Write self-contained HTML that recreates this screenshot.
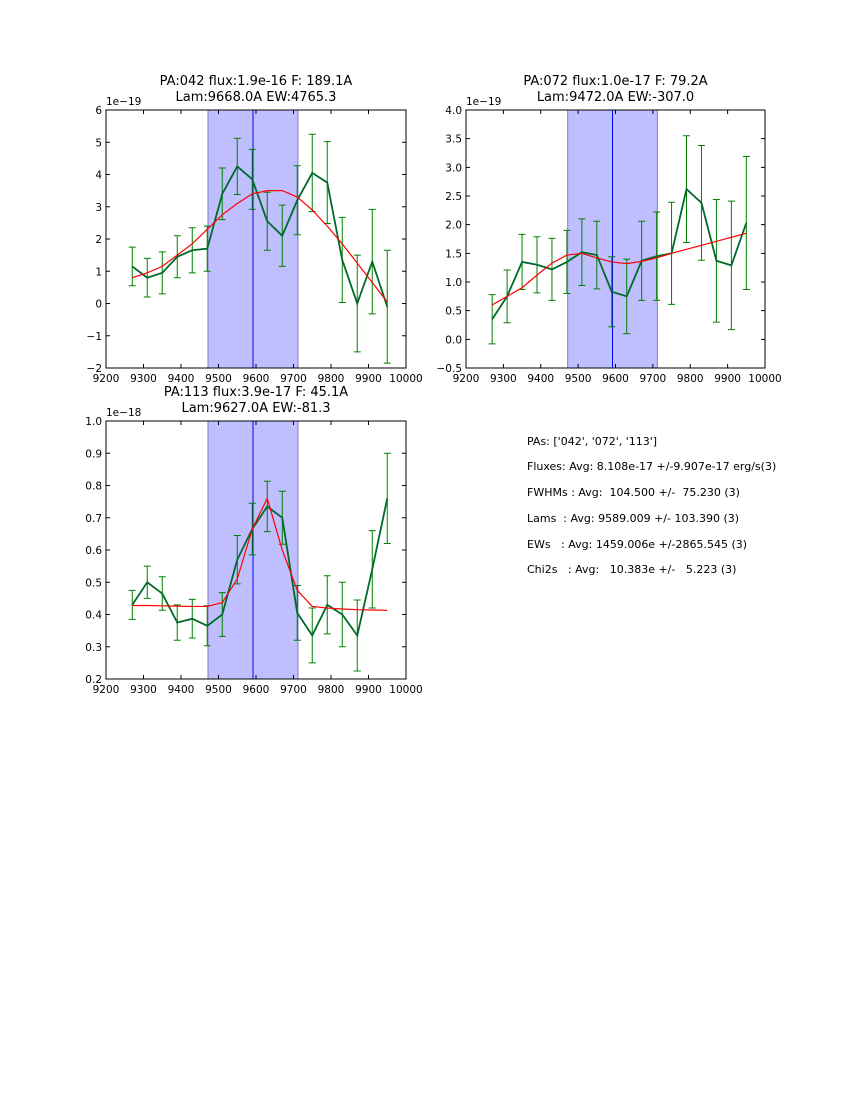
<!DOCTYPE html>
<html><head><meta charset="utf-8"><style>
body{margin:0;background:#fff;}
svg{font-family:"DejaVu Sans","Liberation Sans",sans-serif;}
.info{position:absolute;left:527px;font:11px "DejaVu Sans","Liberation Sans",sans-serif;white-space:pre;color:#000}
</style></head><body>
<div style="position:relative;width:850px;height:1100px">
<svg id="fig" width="850" height="1100" style="position:absolute;left:0;top:0"></svg>
<div class="info" style="top:435px">PAs: ['042', '072', '113']</div>
<div class="info" style="top:460px">Fluxes: Avg: 8.108e-17 +/-9.907e-17 erg/s(3)</div>
<div class="info" style="top:486px">FWHMs : Avg:  104.500 +/-  75.230 (3)</div>
<div class="info" style="top:512px">Lams  : Avg: 9589.009 +/- 103.390 (3)</div>
<div class="info" style="top:538px">EWs   : Avg: 1459.006e +/-2865.545 (3)</div>
<div class="info" style="top:563px">Chi2s   : Avg:   10.383e +/-   5.223 (3)</div>
</div>
<script>
const wavelengths=[9270,9310,9350,9390,9430,9470,9510,9550,9590,9630,9670,9710,9750,9790,9830,9870,9910,9950];
const p1Values=[1.15,0.8,0.95,1.45,1.65,1.7,3.4,4.25,3.85,2.55,2.1,3.2,4.05,3.75,1.35,0.0,1.3,-0.1];
const p1Errors=[0.6,0.6,0.65,0.65,0.7,0.7,0.8,0.87,0.93,0.9,0.95,1.07,1.2,1.27,1.32,1.5,1.62,1.75];
const p1Model=[0.8,0.95,1.15,1.5,1.85,2.3,2.75,3.1,3.4,3.5,3.5,3.3,2.9,2.4,1.85,1.25,0.65,0.05];
const p2Values=[0.35,0.75,1.35,1.3,1.22,1.35,1.52,1.47,0.83,0.75,1.37,1.45,1.5,2.62,2.38,1.37,1.29,2.03];
const p2Errors=[0.43,0.46,0.48,0.49,0.54,0.55,0.58,0.59,0.61,0.65,0.69,0.77,0.89,0.93,1.0,1.07,1.12,1.16];
const p2Model=[0.6,0.75,0.9,1.12,1.33,1.47,1.5,1.42,1.35,1.32,1.36,1.42,1.5,1.57,1.64,1.71,1.78,1.85];
const p3Values=[0.43,0.50,0.465,0.375,0.387,0.365,0.40,0.57,0.665,0.735,0.70,0.405,0.335,0.43,0.40,0.335,0.54,0.76];
const p3Errors=[0.045,0.05,0.052,0.055,0.06,0.062,0.068,0.075,0.08,0.078,0.082,0.085,0.085,0.09,0.1,0.11,0.12,0.14];
const p3Model=[0.428,0.428,0.427,0.426,0.425,0.425,0.437,0.51,0.665,0.76,0.6,0.475,0.425,0.42,0.417,0.415,0.414,0.413];
const xTicks=[9200,9300,9400,9500,9600,9700,9800,9900,10000];
const p1YTicks=[-2,-1,0,1,2,3,4,5,6];
const p2YTicks=[-0.5,0,0.5,1,1.5,2,2.5,3,3.5,4];
const p3YTicks=[0.2,0.3,0.4,0.5,0.6,0.7,0.8,0.9,1.0];
const NS="http://www.w3.org/2000/svg";
const svg=document.getElementById('fig');
function mk(tag,attrs,parent){const e=document.createElementNS(NS,tag);for(const k in attrs)e.setAttribute(k,attrs[k]);(parent||svg).appendChild(e);return e;}
function panel(o){
  const g=mk('g',{});
  
  
  const sx=v=>o.x0+(v-9200)/800*(o.x1-o.x0);
  const sy=v=>o.y1-(v-o.ymin)/(o.ymax-o.ymin)*(o.y1-o.y0);
  const band=mk('rect',{x:sx(o.band[0]),y:o.y0,width:sx(o.band[1])-sx(o.band[0]),height:o.y1-o.y0,fill:'#bfbfff',stroke:'#7f7fbf','stroke-width':1},g);
  
  
  const cl=mk('line',{x1:sx(o.center),x2:sx(o.center),y1:o.y0,y2:o.y1,stroke:'#0000ff','stroke-width':1},g);
  
  
  wavelengths.forEach((w,i)=>{
    const x=sx(w),a=sy(o.vals[i]+o.errs[i]),b=sy(o.vals[i]-o.errs[i]);
    const eb=mk('path',{d:`M${x},${a}V${b}M${x-3.5},${a}H${x+3.5}M${x-3.5},${b}H${x+3.5}`,stroke:'#008000','stroke-width':1,fill:'none'},g);
    
    
  });
  const dl=mk('polyline',{points:wavelengths.map((w,i)=>sx(w)+','+sy(o.vals[i])).join(' '),fill:'none',stroke:'#006a2a','stroke-width':1.8},g);
  
  
  const ml=mk('polyline',{points:wavelengths.map((w,i)=>sx(w)+','+sy(o.model[i])).join(' '),fill:'none',stroke:'#ff0000','stroke-width':1.2},g);
  
  
  const fr=mk('rect',{x:o.x0,y:o.y0,width:o.x1-o.x0,height:o.y1-o.y0,fill:'none',stroke:'#000','stroke-width':1},g);
  
  
  xTicks.forEach(t=>{
    const x=sx(t);
    mk('path',{d:`M${x},${o.y1}v-4M${x},${o.y0}v4`,stroke:'#000'},g);
    const tx=mk('text',{x:x,y:o.y1+14,'font-size':10.5,'text-anchor':'middle'},g);tx.textContent=t;
    
    
  });
  o.yt.forEach(t=>{
    const y=sy(t);
    mk('path',{d:`M${o.x0},${y}h4M${o.x1},${y}h-4`,stroke:'#000'},g);
    const tx=mk('text',{x:o.x0-4,y:y+4,'font-size':10.5,'text-anchor':'end'},g);tx.textContent=o.fmt(t);
    
    
  });
  const ex=mk('text',{x:o.x0,y:o.y0-5,'font-size':10.5},g);ex.textContent=o.exp;
  
  
  o.title.forEach((s,i)=>{
    const t=mk('text',{x:(o.x0+o.x1)/2,y:o.y0-25+i*16,'font-size':13,'text-anchor':'middle'},g);t.textContent=s;
    
    
  });
}
const fm=t=>(t<0?'\u2212':'')+Math.abs(t);
const f1=t=>(t<0?'\u2212':'')+Math.abs(t).toFixed(1);
panel({name:'panel-pa042',x0:106,x1:406,y0:110,y1:368,ymin:-2,ymax:6,vals:p1Values,errs:p1Errors,model:p1Model,yt:p1YTicks,fmt:fm,exp:'1e\u221219',band:[9472,9712],center:9592,title:['PA:042 flux:1.9e-16 F: 189.1A','Lam:9668.0A EW:4765.3']});
panel({name:'panel-pa072',x0:466,x1:765,y0:110,y1:368,ymin:-0.5,ymax:4,vals:p2Values,errs:p2Errors,model:p2Model,yt:p2YTicks,fmt:f1,exp:'1e\u221219',band:[9472,9712],center:9592,title:['PA:072 flux:1.0e-17 F: 79.2A','Lam:9472.0A EW:-307.0']});
panel({name:'panel-pa113',x0:106,x1:406,y0:421,y1:679,ymin:0.2,ymax:1.0,vals:p3Values,errs:p3Errors,model:p3Model,yt:p3YTicks,fmt:f1,exp:'1e\u221218',band:[9472,9712],center:9592,title:['PA:113 flux:3.9e-17 F: 45.1A','Lam:9627.0A EW:-81.3']});
</script>
</body></html>
